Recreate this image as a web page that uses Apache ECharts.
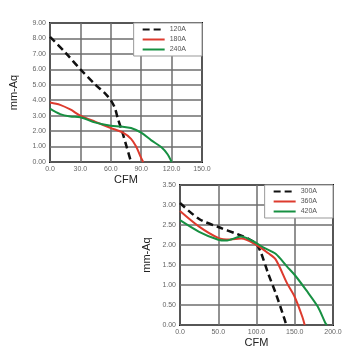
<!DOCTYPE html>
<html>
<head>
<meta charset="utf-8">
<script src="https://cdn.jsdelivr.net/npm/echarts@6/dist/echarts.min.js"></script>
<style>
    html, body { margin: 0; padding: 0; background: #fff; }
    #chart { width: 355px; height: 355px; }
</style>
</head>
<body>
<div id="chart"></div>
<script type="text/javascript">
    // 上图: 120A / 180A / 240A  (CFM, mm-Aq)
    var names1 = ['120A', '180A', '240A'];
    var s120 = [[0,8.1],[15,7.1],[30,6.0],[45,5.0],[55,4.4],[60,4.0],[64,3.5],[67,2.8],[72,1.8],[76,0.9],[80,0]];
    var s180 = [[0,3.85],[10,3.7],[20,3.4],[30,3.0],[45,2.6],[60,2.2],[72,1.9],[80,1.5],[85,1.0],[89,0.4],[92,0]];
    var s240 = [[0,3.45],[10,3.1],[20,2.95],[30,2.9],[45,2.55],[60,2.35],[70,2.3],[80,2.2],[90,1.9],[100,1.4],[110,0.95],[116,0.5],[120,0]];

    // 下图: 300A / 360A / 420A
    var names2 = ['300A', '360A', '420A'];
    var s300 = [[0,3.05],[25,2.65],[50,2.45],[75,2.27],[90,2.15],[100,2.02],[106,1.8],[115,1.3],[125,0.8],[134,0.3],[139,0]];
    var s360 = [[0,2.85],[25,2.46],[50,2.18],[65,2.14],[80,2.16],[100,2.0],[115,1.8],[125,1.64],[140,1.04],[150,0.7],[160,0.2],[163,0]];
    var s420 = [[0,2.62],[25,2.33],[50,2.13],[60,2.11],[80,2.21],[95,2.1],[110,1.93],[125,1.78],[140,1.46],[150,1.25],[165,0.87],[180,0.46],[190,0.05],[192,0]];

    var colors = ['#111111', '#dd3b2e', '#179042'];

    var myChart = echarts.init(document.getElementById('chart'));

    function xAxisOf(idx, max, step) {
        return {
            type: 'value', gridIndex: idx, min: 0, max: max, interval: step,
            name: 'CFM', nameLocation: 'middle', nameGap: 12,
            nameTextStyle: { fontSize: 11, color: '#222', fontFamily: 'Liberation Sans' },
            axisLine: { show: false }, axisTick: { show: false },
            axisLabel: { fontSize: 7, color: '#666', margin: 4, fontFamily: 'Liberation Sans',
                formatter: function (v) { return v.toFixed(1); } },
            splitLine: { lineStyle: { color: '#6e6e6e', width: 1.5 } }
        };
    }
    function yAxisOf(idx, max, step, gap) {
        return {
            type: 'value', gridIndex: idx, min: 0, max: max, interval: step,
            name: 'mm-Aq', nameLocation: 'middle', nameGap: gap, nameRotate: 90,
            nameTextStyle: { fontSize: 11, color: '#222', fontFamily: 'Liberation Sans' },
            axisLine: { show: false }, axisTick: { show: false },
            axisLabel: { fontSize: 7, color: '#666', margin: 4, fontFamily: 'Liberation Sans',
                formatter: function (v) { return v.toFixed(2); } },
            splitLine: { lineStyle: { color: '#6e6e6e', width: 1.5 } }
        };
    }
    function lineOf(name, data, idx, k) {
        return {
            name: name, type: 'line', xAxisIndex: idx, yAxisIndex: idx,
            data: data, smooth: 0.3, symbol: 'none',
            lineStyle: { color: colors[k], width: k === 0 ? 2.5 : 2, type: k === 0 ? [7, 4] : 'solid' },
            itemStyle: { color: colors[k] }
        };
    }
    //图例靠右对齐网格边框
    function legendOf(names, right, top) {
        return {
            data: names, orient: 'vertical', right: right, top: top,
            itemWidth: 22, itemHeight: 8, itemGap: 3,
            padding: [3, 16, 3, 8],
            itemStyle: { opacity: 0 },
            backgroundColor: '#fff', borderColor: '#999', borderWidth: 1,
            textStyle: { fontSize: 7, color: '#555', fontFamily: 'Liberation Sans' }
        };
    }

    var option = {
        animation: false,
        backgroundColor: '#fff',
        grid: [
            { left: 50, top: 23, width: 152, height: 139, show: true, borderColor: '#111', borderWidth: 2, backgroundColor: 'transparent' },
            { left: 180, top: 185, width: 153, height: 140, show: true, borderColor: '#111', borderWidth: 2, backgroundColor: 'transparent' }
        ],
        xAxis: [xAxisOf(0, 150, 30), xAxisOf(1, 200, 50)],
        yAxis: [yAxisOf(0, 9, 1, 31), yAxisOf(1, 3.5, 0.5, 28)],
        legend: [legendOf(names1, 153, 23), legendOf(names2, 22, 185)],
        series: [
            lineOf(names1[0], s120, 0, 0),
            lineOf(names1[1], s180, 0, 1),
            lineOf(names1[2], s240, 0, 2),
            lineOf(names2[0], s300, 1, 0),
            lineOf(names2[1], s360, 1, 1),
            lineOf(names2[2], s420, 1, 2)
        ]
    };

    myChart.setOption(option, true);
</script>
</body>
</html>
